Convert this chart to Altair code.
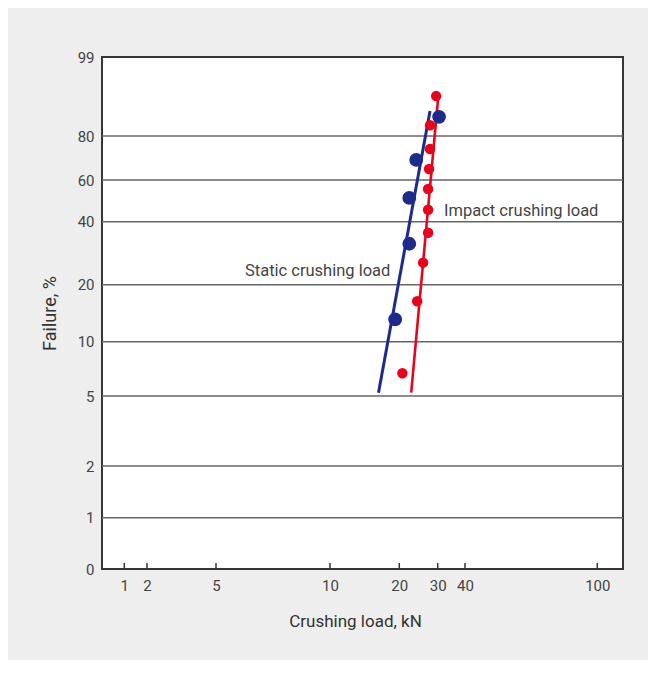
import altair as alt
import pandas as pd

# ---- data ----
x_ticks = [1, 2, 5, 10, 20, 30, 40, 100]
y_ticks = [0, 1, 2, 5, 10, 20, 40, 60, 80, 99]
grid_values = [1, 2, 5, 10, 20, 40, 60, 80]

static_load = [19.4, 22.6, 22.6, 24.4, 30.5]
static_fail = [13.9, 33.0, 51.4, 69.1, 84.6]

impact_load = [20.8, 24.65, 26.2, 27.5, 27.5, 27.5, 27.75, 28.0, 28.0, 29.6]
impact_fail = [7.1, 17.1, 27.0, 36.5, 45.7, 55.7, 65.0, 74.1, 82.6, 89.6]

static_fit_load = [17.0, 28.0]
static_fit_fail = [5.3, 86.0]
impact_fit_load = [23.1, 30.1]
impact_fit_fail = [5.3, 88.7]

labels = ["Static crushing load", "Impact crushing load"]
label_load = [6.27, 32.3]
label_fail = [24.3, 45.1]

# ---- layout / style ----
W, H = 521, 512
FONT = "Roboto"
BLUE = "#1e2a8c"
RED = "#e5061c"

# piecewise scales mimic the chart's probability-paper axes
x_scale = alt.Scale(domain=x_ticks,
                    range=[22.3, 45, 114, 228, 297.3, 335.7, 363, 495.3],
                    zero=False, nice=False)
y_scale = alt.Scale(domain=y_ticks,
                    range=[512, 460.7, 409, 339, 284.7, 227.7, 164.7, 123, 79, 0],
                    zero=False, nice=False)

x_axis = alt.Axis(values=x_ticks, title="Crushing load, kN", grid=False, ticks=False,
                  domain=False, labelFont=FONT, labelFontSize=15, labelColor="#444",
                  labelPadding=9, labelFlush=False, labelOverlap=False,
                  titleFont=FONT, titleFontSize=17, titleFontWeight="normal",
                  titleColor="#333", titleX=253, titleY=52, titleBaseline="middle")
y_axis = alt.Axis(values=y_ticks, title="Failure, %", grid=False, ticks=False,
                  domain=False, labelFont=FONT,
                  labelFontSize=15, labelColor="#444", labelPadding=8,
                  labelFlush=False, labelOverlap=False,
                  titleFont=FONT, titleFontSize=18, titleFontWeight="normal",
                  titleColor="#333", titleX=-52, titleY=256, titleBaseline="middle")


def X():
    return alt.X("x:Q", scale=x_scale, axis=x_axis)


def Y():
    return alt.Y("y:Q", scale=y_scale, axis=y_axis)


grid = alt.Chart(pd.DataFrame({"y": grid_values})).mark_rule(
    color="#666", strokeWidth=1.5).encode(y=Y(), x=alt.value(0), x2=alt.value(W))

tick_df = pd.DataFrame({"x": x_ticks})
ticks = alt.Chart(tick_df).mark_rule(color="#3a3434", strokeWidth=1.5).encode(
    x=X(), y=alt.value(H), y2=alt.value(H - 6))

static_fit = alt.Chart(pd.DataFrame({"x": static_fit_load, "y": static_fit_fail})).mark_line(
    color=BLUE, strokeWidth=3).encode(x=X(), y=Y())
impact_fit = alt.Chart(pd.DataFrame({"x": impact_fit_load, "y": impact_fit_fail})).mark_line(
    color=RED, strokeWidth=2.6).encode(x=X(), y=Y())

static_pts = alt.Chart(pd.DataFrame({"x": static_load, "y": static_fail})).mark_circle(
    color=BLUE, opacity=1, size=190).encode(x=X(), y=Y())
impact_pts = alt.Chart(pd.DataFrame({"x": impact_load, "y": impact_fail})).mark_circle(
    color=RED, opacity=1, size=110).encode(x=X(), y=Y())

text = alt.Chart(pd.DataFrame({"x": label_load, "y": label_fail, "t": labels})).mark_text(
    align="left", baseline="middle", font=FONT, fontSize=16.5, color="#444").encode(
    x=X(), y=Y(), text="t:N")

chart = alt.layer(grid, ticks, static_fit, impact_fit, static_pts, impact_pts, text).properties(
    width=W, height=H,
    autosize=alt.AutoSizeParams(type="none"),
    padding={"left": 94, "top": 49, "right": 25, "bottom": 91},
).configure(background="#eeeeee").configure_view(
    fill="white", stroke="#3a3434", strokeWidth=2)

chart.save("out.html", embed_options={"renderer": "svg", "actions": False})
